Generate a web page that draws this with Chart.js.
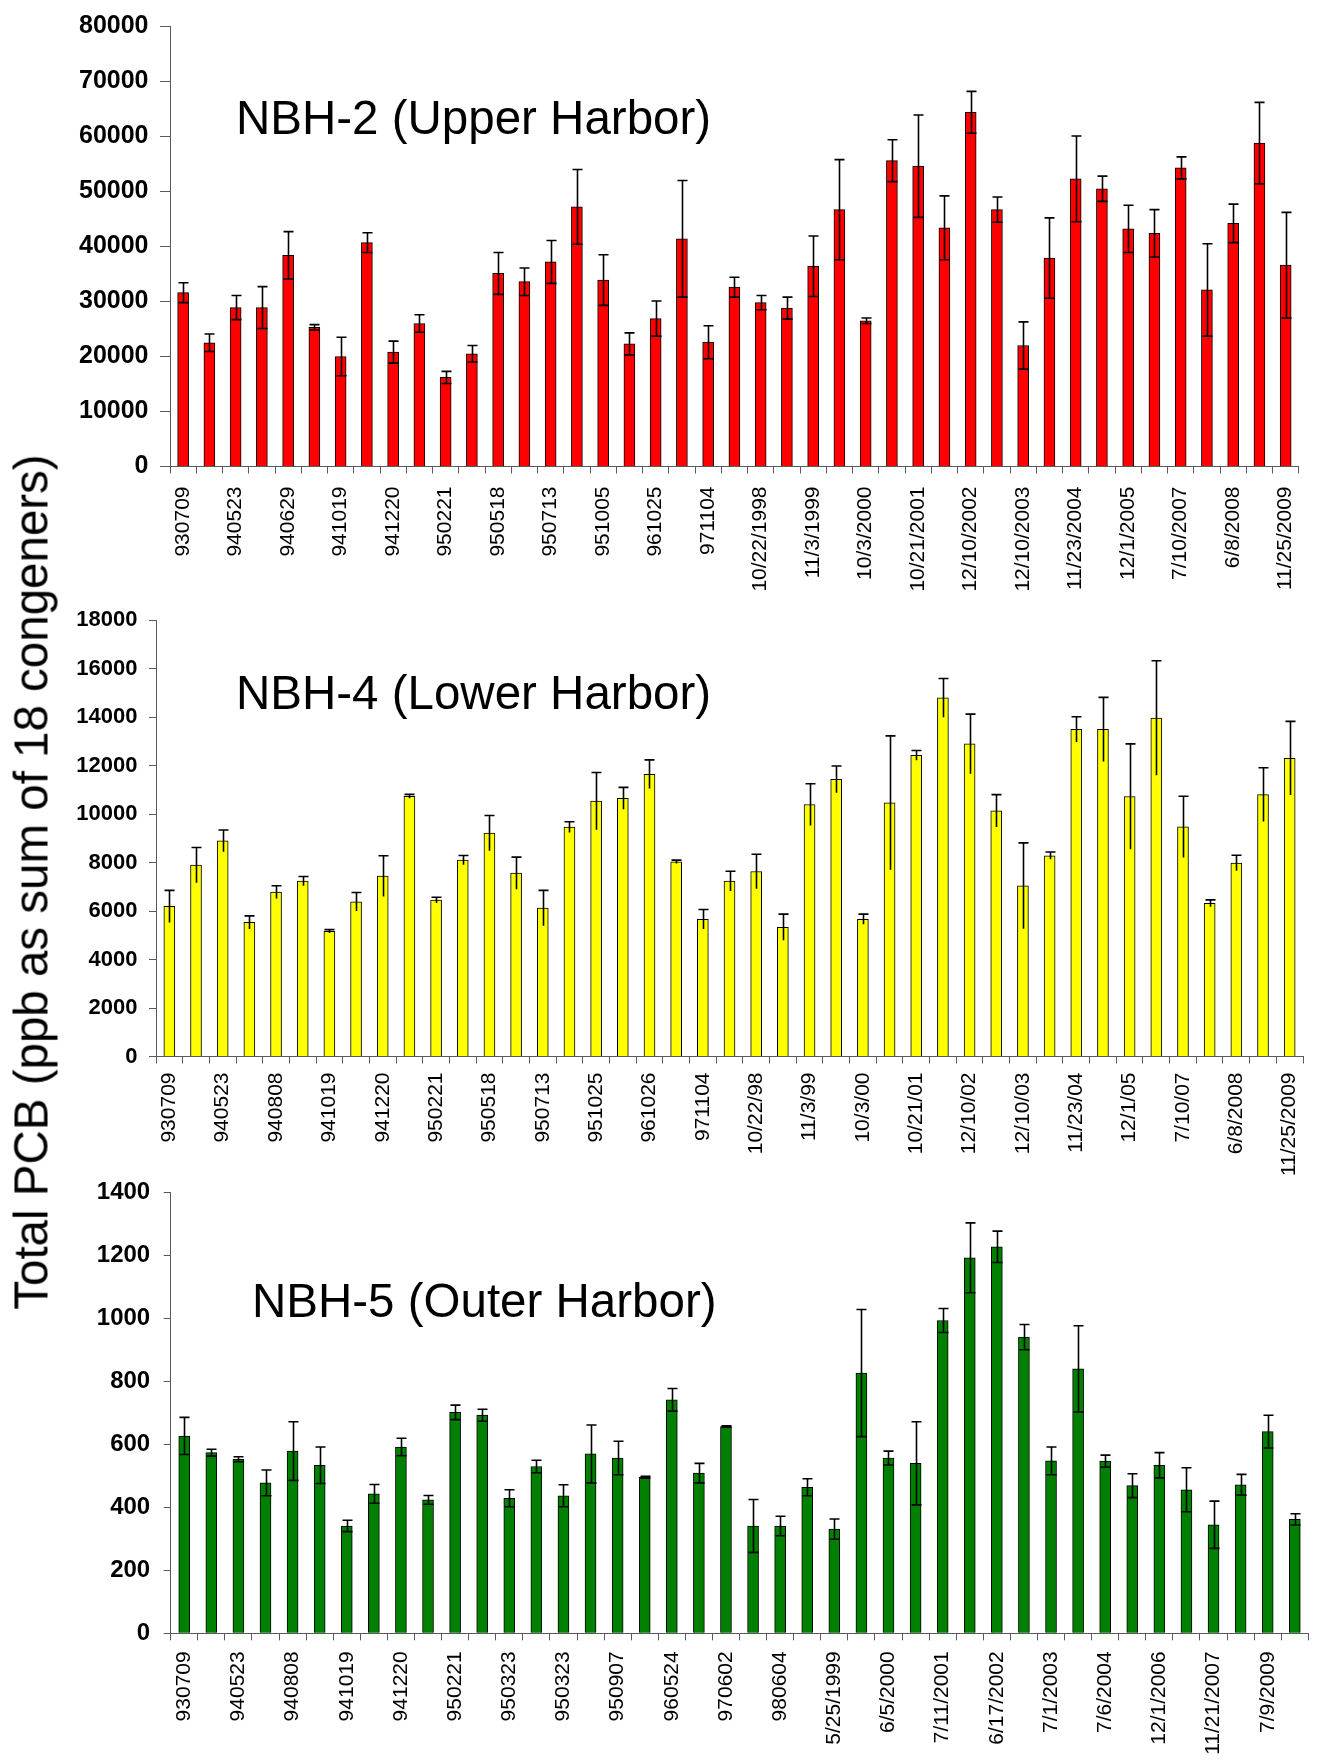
<!DOCTYPE html>
<html>
<head>
<meta charset="utf-8">
<title>Total PCB at NBH-2, NBH-4 and NBH-5</title>
<script src="https://cdn.jsdelivr.net/npm/chart.js@4.4.1/dist/chart.umd.min.js"></script>
<style>
  html, body { margin: 0; padding: 0; background: #fff; overflow: hidden; width: 1324px; height: 1763px; }
  canvas { position: absolute; left: 0; }
  .label { position: absolute; font-family: "Liberation Sans", Arial, sans-serif; color: #000; white-space: nowrap; line-height: normal; }
  .panel-title { font-size: 47.5px; }
  #yTitle { font-size: 47.5px; transform: translate(-50%, -50%) rotate(-90deg); }
</style>
</head>
<body>
<canvas id="nbh2" width="1324" height="600" style="top:0px"></canvas>
<canvas id="nbh4" width="1324" height="587" style="top:590px"></canvas>
<canvas id="nbh5" width="1331" height="603" style="top:1160px"></canvas>

<div class="label panel-title" style="left:236px; top:90px;">NBH-2 (Upper Harbor)</div>
<div class="label panel-title" style="left:236px; top:665px;">NBH-4 (Lower Harbor)</div>
<div class="label panel-title" style="left:252px; top:1273px;">NBH-5 (Outer Harbor)</div>
<div class="label" id="yTitle" style="left:31px; top:882px;">Total PCB (ppb as sum of 18 congeners)</div>

<script>
// ---- NBH-2 (Upper Harbor) ----
const nbh2TickLabels = ['930709', '940523', '940629', '941019', '941220', '950221', '950518', '950713',
  '951005', '961025', '971104', '10/22/1998', '11/3/1999', '10/3/2000', '10/21/2001', '12/10/2002',
  '12/10/2003', '11/23/2004', '12/1/2005', '7/10/2007', '6/8/2008', '11/25/2009'];
const nbh2Values = [31600, 22500, 28900, 28900, 38400, 25300, 20000, 40700, 20800, 26000, 16200, 20500,
  35100, 33600, 37200, 47200, 33900, 22300, 26900, 41400, 22600, 32600, 29800, 28800, 36400, 46700,
  26500, 55600, 54600, 43400, 64400, 46700, 22000, 37900, 52300, 50500, 43200, 42400, 54300, 32100,
  44200, 58800, 36600];
const nbh2Errors = [1800, 1600, 2200, 3800, 4300, 500, 3500, 1800, 2000, 1600, 1100, 1500, 3800, 2500,
  3900, 6800, 4600, 2000, 3200, 10600, 3000, 1800, 1300, 2000, 5500, 9100, 500, 3800, 9300, 5800, 3800,
  2300, 4300, 7300, 7800, 2300, 4300, 4300, 2000, 8400, 3500, 7400, 9600];

// ---- NBH-4 (Lower Harbor) ----
const nbh4TickLabels = ['930709', '940523', '940808', '941019', '941220', '950221', '950518', '950713',
  '951025', '961026', '971104', '10/22/98', '11/3/99', '10/3/00', '10/21/01', '12/10/02', '12/10/03',
  '11/23/04', '12/1/05', '7/10/07', '6/8/2008', '11/25/2009'];
const nbh4Values = [6190, 7890, 8890, 5530, 6780, 7230, 5160, 6380, 7440, 10730, 6450, 8100, 9210, 7560,
  6120, 9460, 10530, 10650, 11640, 8030, 5660, 7230, 7630, 5330, 10390, 11430, 5660, 10460, 12420, 14790,
  12890, 10130, 7040, 8280, 13490, 13490, 10720, 13960, 9470, 6320, 7980, 10800, 12300];
const nbh4Errors = [660, 730, 450, 270, 260, 190, 70, 380, 840, 80, 120, 190, 730, 660, 730, 220, 1180,
  450, 590, 70, 400, 410, 710, 540, 860, 550, 210, 2760, 200, 800, 1230, 670, 1770, 150, 520, 1320,
  2170, 2360, 1260, 140, 320, 1110, 1520];

// ---- NBH-5 (Outer Harbor) ----
const nbh5TickLabels = ['930709', '940523', '940808', '941019', '941220', '950221', '950323', '950323',
  '950907', '960524', '970602', '980604', '5/25/1999', '6/5/2000', '7/11/2001', '6/17/2002', '7/1/2003',
  '7/6/2004', '12/1/2006', '11/21/2007', '7/9/2009'];
const nbh5Values = [627, 574, 553, 478, 579, 534, 341, 443, 592, 424, 702, 693, 429, 530, 437, 570, 557,
  496, 742, 509, 657, 341, 341, 464, 331, 827, 557, 540, 994, 1193, 1228, 941, 548, 840, 547, 469, 534,
  456, 345, 472, 641, 362];
const nbh5Errors = [59, 11, 8, 41, 93, 58, 18, 30, 28, 14, 23, 19, 27, 20, 35, 92, 53, 3, 36, 31, 2, 84,
  31, 27, 32, 202, 22, 132, 38, 111, 50, 40, 44, 137, 19, 38, 40, 70, 75, 33, 52, 18];

// Samples are labelled every other bar on the category axis.
function categoriesFrom(tickLabels, count) {
  const out = [];
  for (let i = 0; i < count; i++) out.push(i % 2 === 0 ? (tickLabels[i / 2] || '') : '');
  return out;
}

// Draws +/- error whiskers over each bar using the chart's own y scale.
const errorBarPlugin = {
  id: 'errorBars',
  afterDatasetsDraw(chart, args, opts) {
    const meta = chart.getDatasetMeta(0);
    const values = chart.data.datasets[0].data;
    const yScale = chart.scales.y;
    const ctx = chart.ctx;
    ctx.save();
    ctx.strokeStyle = '#000';
    ctx.lineWidth = 1.6;
    meta.data.forEach((bar, i) => {
      const v = values[i];
      const e = opts.errors[i];
      const x = Math.round(bar.x) + 0.5;
      const hi = yScale.getPixelForValue(v + e);
      const lo = yScale.getPixelForValue(v - e);
      const half = 5;
      ctx.beginPath();
      ctx.moveTo(x, hi);
      ctx.lineTo(x, lo);
      ctx.moveTo(x - half, hi);
      ctx.lineTo(x + half, hi);
      if (opts.lowerCap) {
        ctx.moveTo(x - half, lo);
        ctx.lineTo(x + half, lo);
      }
      ctx.stroke();
    });
    ctx.restore();
  }
};

const AXIS_COLOR = '#5a5a5a';
const FONT = '"Liberation Sans", Arial, sans-serif';

function drawPanel(cfg) {
  const canvas = document.getElementById(cfg.id);
  const W = canvas.width, H = canvas.height;
  const xAxisHeight = H - cfg.plotBottom;
  return new Chart(canvas, {
    type: 'bar',
    data: {
      labels: categoriesFrom(cfg.tickLabels, cfg.values.length),
      datasets: [{
        data: cfg.values,
        backgroundColor: cfg.color,
        borderColor: '#000',
        borderWidth: 1,
        barThickness: 11,
      }]
    },
    options: {
      responsive: false,
      animation: false,
      layout: { padding: { top: cfg.plotTop, right: W - cfg.plotRight, bottom: 0, left: 0 } },
      plugins: {
        legend: { display: false },
        tooltip: { enabled: false },
        title: { display: false },
        errorBars: { errors: cfg.errors, lowerCap: cfg.lowerCap }
      },
      scales: {
        x: {
          type: 'category',
          offset: true,
          border: { display: true, color: AXIS_COLOR, width: 1 },
          grid: { offset: true, drawOnChartArea: false, drawTicks: true, tickLength: 7, color: AXIS_COLOR },
          ticks: {
            autoSkip: false, maxRotation: 90, minRotation: 90, padding: cfg.labelGap,
            color: '#000', font: { family: FONT, size: 21 }
          },
          afterFit(scale) { scale.height = xAxisHeight; }
        },
        y: {
          min: 0, max: cfg.max,
          border: { display: true, color: AXIS_COLOR, width: 1 },
          grid: { drawOnChartArea: false, drawTicks: true, tickLength: cfg.yTick, color: AXIS_COLOR },
          ticks: {
            stepSize: cfg.step, padding: cfg.yPad, color: '#000',
            font: { family: FONT, size: cfg.ySize, weight: 'bold' },
            callback: (value) => String(value)
          },
          afterFit(scale) { scale.width = cfg.axisLeft; }
        }
      }
    },
    plugins: [errorBarPlugin]
  });
}

drawPanel({ id: 'nbh2', tickLabels: nbh2TickLabels, values: nbh2Values, errors: nbh2Errors,
  color: '#ff0000', max: 80000, step: 10000, lowerCap: true, yTick: 10, yPad: 11.5, ySize: 25,
  labelGap: 13, axisLeft: 170, plotRight: 1314, plotTop: 24, plotBottom: 466.5 });

drawPanel({ id: 'nbh4', tickLabels: nbh4TickLabels, values: nbh4Values, errors: nbh4Errors,
  color: '#ffff00', max: 18000, step: 2000, lowerCap: false, yTick: 7, yPad: 11.5, ySize: 22,
  labelGap: 9, axisLeft: 156, plotRight: 1314, plotTop: 30, plotBottom: 466.5 });

drawPanel({ id: 'nbh5', tickLabels: nbh5TickLabels, values: nbh5Values, errors: nbh5Errors,
  color: '#008000', max: 1400, step: 200, lowerCap: true, yTick: 7, yPad: 13.5, ySize: 24,
  labelGap: 11, axisLeft: 170.7, plotRight: 1331, plotTop: 32.7, plotBottom: 473.3 });
</script>
</body>
</html>
